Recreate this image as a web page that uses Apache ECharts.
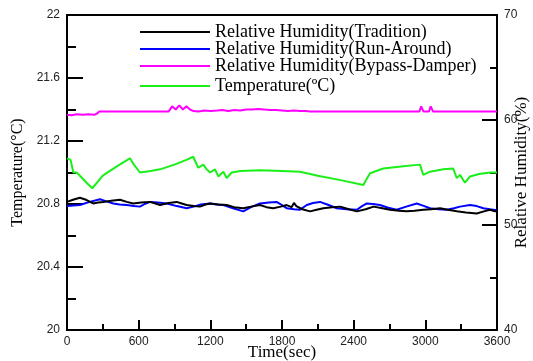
<!DOCTYPE html>
<html><head><meta charset="utf-8">
<script src="https://cdn.jsdelivr.net/npm/echarts@6/dist/echarts.min.js"></script>
<style>html,body{margin:0;padding:0;background:#fff}#c{width:533px;height:361px}</style>
</head><body><div id="c"></div>
<script>
const seriesNames = ['Relative Humidity(Tradition)','Relative Humidity(Run-Around)','Relative Humidity(Bypass-Damper)','Temperature(ºC)'];
const rhTradition = [[0,52.2],[50,52.4],[108,52.6],[160,52.4],[219,52.05],[260,52.15],[303,52.2],[370,52.3],[444,52.4],[500,52.2],[555,52.05],[620,52.15],[695,52.2],[740,52.05],[779,51.9],[850,52.1],[918,52.2],[960,52.05],[1002,51.9],[1060,51.8],[1113,51.75],[1160,51.95],[1197,52.05],[1270,51.95],[1337,51.9],[1400,51.7],[1476,51.6],[1540,51.75],[1616,51.9],[1670,51.7],[1727,51.6],[1790,51.75],[1839,51.9],[1880,51.7],[1900,52.1],[1920,51.8],[1970,51.5],[2035,51.3],[2090,51.45],[2146,51.6],[2220,51.7],[2288,51.75],[2360,51.5],[2427,51.3],[2500,51.5],[2567,51.75],[2640,51.6],[2704,51.45],[2780,51.35],[2844,51.3],[2910,51.35],[2983,51.45],[3050,51.5],[3123,51.6],[3190,51.45],[3263,51.3],[3340,51.2],[3430,51.1],[3490,51.3],[3541,51.45],[3583,51.3],[3600,51.3]];
const rhRunAround = [[0,51.8],[50,51.85],[108,51.9],[190,52.2],[276,52.45],[330,52.25],[388,52.05],[440,51.95],[500,51.9],[560,51.8],[611,51.75],[650,52.0],[695,52.2],[760,52.15],[835,52.05],[920,51.8],[1002,51.6],[1060,51.75],[1120,51.95],[1197,52.05],[1250,51.95],[1309,51.9],[1390,51.6],[1476,51.3],[1540,51.7],[1616,52.05],[1690,52.15],[1755,52.2],[1800,51.9],[1839,51.6],[1900,51.5],[1951,51.45],[2007,51.9],[2060,52.1],[2118,52.2],[2190,51.9],[2258,51.6],[2340,51.5],[2427,51.45],[2470,51.8],[2511,52.05],[2560,52.0],[2620,51.9],[2690,51.65],[2760,51.45],[2840,51.75],[2928,52.05],[2980,51.85],[3039,51.6],[3110,51.5],[3179,51.45],[3240,51.6],[3290,51.75],[3374,51.9],[3430,51.8],[3486,51.6],[3540,51.5],[3570,51.45],[3600,51.4]];
const rhBypass = [[0,60.5],[40,60.45],[80,60.55],[130,60.5],[180,60.55],[230,60.5],[250,60.6],[270,60.8],[400,60.8],[600,60.8],[850,60.8],[880,61.3],[910,61.0],[940,61.4],[970,61.0],[1000,61.3],[1030,61.0],[1060,60.85],[1100,60.8],[1150,60.9],[1200,60.85],[1260,60.9],[1300,60.95],[1350,60.85],[1400,60.95],[1450,60.9],[1500,61.0],[1550,61.0],[1600,61.05],[1650,61.0],[1700,60.95],[1750,60.95],[1800,60.9],[1850,60.85],[1900,60.9],[1950,60.85],[2000,60.85],[2035,60.8],[2500,60.8],[2950,60.8],[2965,61.3],[2985,60.8],[3030,60.8],[3045,61.3],[3065,60.8],[3600,60.8]];
const temperature = [[0,21.09],[30,21.08],[53,21.0],[81,21.0],[120,20.97],[170,20.93],[212,20.90],[300,20.98],[420,21.04],[527,21.09],[560,21.05],[611,21.0],[700,21.01],[779,21.02],[900,21.05],[1000,21.08],[1057,21.1],[1099,21.03],[1141,21.05],[1170,21.02],[1197,21.0],[1239,21.02],[1267,20.975],[1309,21.005],[1337,20.965],[1379,21.0],[1450,21.01],[1616,21.015],[1800,21.01],[1951,21.005],[2100,20.98],[2300,20.95],[2481,20.92],[2510,20.96],[2537,20.995],[2648,21.025],[2816,21.04],[2955,21.05],[2983,20.985],[3039,21.005],[3150,21.02],[3234,21.025],[3263,20.965],[3290,20.985],[3332,20.935],[3374,20.975],[3450,20.99],[3541,21.0],[3600,21.0]];

const serif = 'Liberation Serif';
const sans = 'Liberation Sans';
const axisCommon = (len, mlen) => ({
  axisLine: {show: true, lineStyle: {color: '#000', width: 2}},
  axisTick: {show: true, inside: true, length: len, lineStyle: {color: '#000', width: 2}},
  minorTick: {show: true, splitNumber: 2, length: mlen, lineStyle: {color: '#000', width: 2}},
  splitLine: {show: false},
  minorSplitLine: {show: false},
  nameMoveOverlap: false,
  nameTextStyle: {color: '#000', fontFamily: serif, fontSize: 16}
});
const lbl = (m) => ({color: '#222', fontFamily: sans, fontSize: 12, margin: m, formatter: v => String(v)});
const legendText = {fontFamily: serif, fontSize: 18, color: '#000'};
const chart = echarts.init(document.getElementById('c'));
chart.setOption({
  animation: false,
  backgroundColor: '#fff',
  grid: {left: 67, right: 36, top: 15, bottom: 31, show: true, borderColor: '#000', borderWidth: 2, containLabel: false, outerBoundsMode: 'none'},
  legend: [{
    data: seriesNames.slice(0,3), orient: 'vertical', left: 140, top: 23, padding: 0,
    icon: 'rect', itemWidth: 70, itemHeight: 2, itemGap: -1,
    textStyle: legendText
  },{
    data: [seriesNames[3]], orient: 'vertical', left: 140, top: 77, padding: 0,
    icon: 'rect', itemWidth: 70, itemHeight: 2,
    textStyle: legendText
  }],
  xAxis: Object.assign(axisCommon(10, 6), {
    type: 'value', min: 0, max: 3600, interval: 600,
    name: 'Time(sec)', nameLocation: 'middle', nameGap: 14,
    axisLabel: lbl(6),
    nameTextStyle: {color: '#000', fontFamily: serif, fontSize: 17}
  }),
  yAxis: [
    Object.assign(axisCommon(16, 9), {
      type: 'value', min: 20, max: 22, interval: 0.4, position: 'left',
      name: 'Temperature(°C)', nameLocation: 'middle', nameGap: 41, nameRotate: 90,
      axisLabel: lbl(7)
    }),
    Object.assign(axisCommon(15, 7), {
      type: 'value', min: 40, max: 70, interval: 10, position: 'right',
      name: 'Relative Humidity(%)', nameLocation: 'middle', nameGap: 16, nameRotate: 90,
      axisLabel: lbl(7),
      nameTextStyle: {color: '#000', fontFamily: serif, fontSize: 17}
    })
  ],
  series: [
    {name: seriesNames[3], type: 'line', yAxisIndex: 0, data: temperature, symbol: 'none', lineStyle: {color: '#1aef1a', width: 2}, itemStyle: {color: '#1aef1a'}},
    {name: seriesNames[2], type: 'line', yAxisIndex: 1, data: rhBypass, symbol: 'none', lineStyle: {color: '#ff00ff', width: 2}, itemStyle: {color: '#ff00ff'}},
    {name: seriesNames[1], type: 'line', yAxisIndex: 1, data: rhRunAround, symbol: 'none', lineStyle: {color: '#0000ff', width: 2}, itemStyle: {color: '#0000ff'}},
    {name: seriesNames[0], type: 'line', yAxisIndex: 1, data: rhTradition, symbol: 'none', lineStyle: {color: '#000', width: 2}, itemStyle: {color: '#000'}}
  ]
});
</script></body></html>
